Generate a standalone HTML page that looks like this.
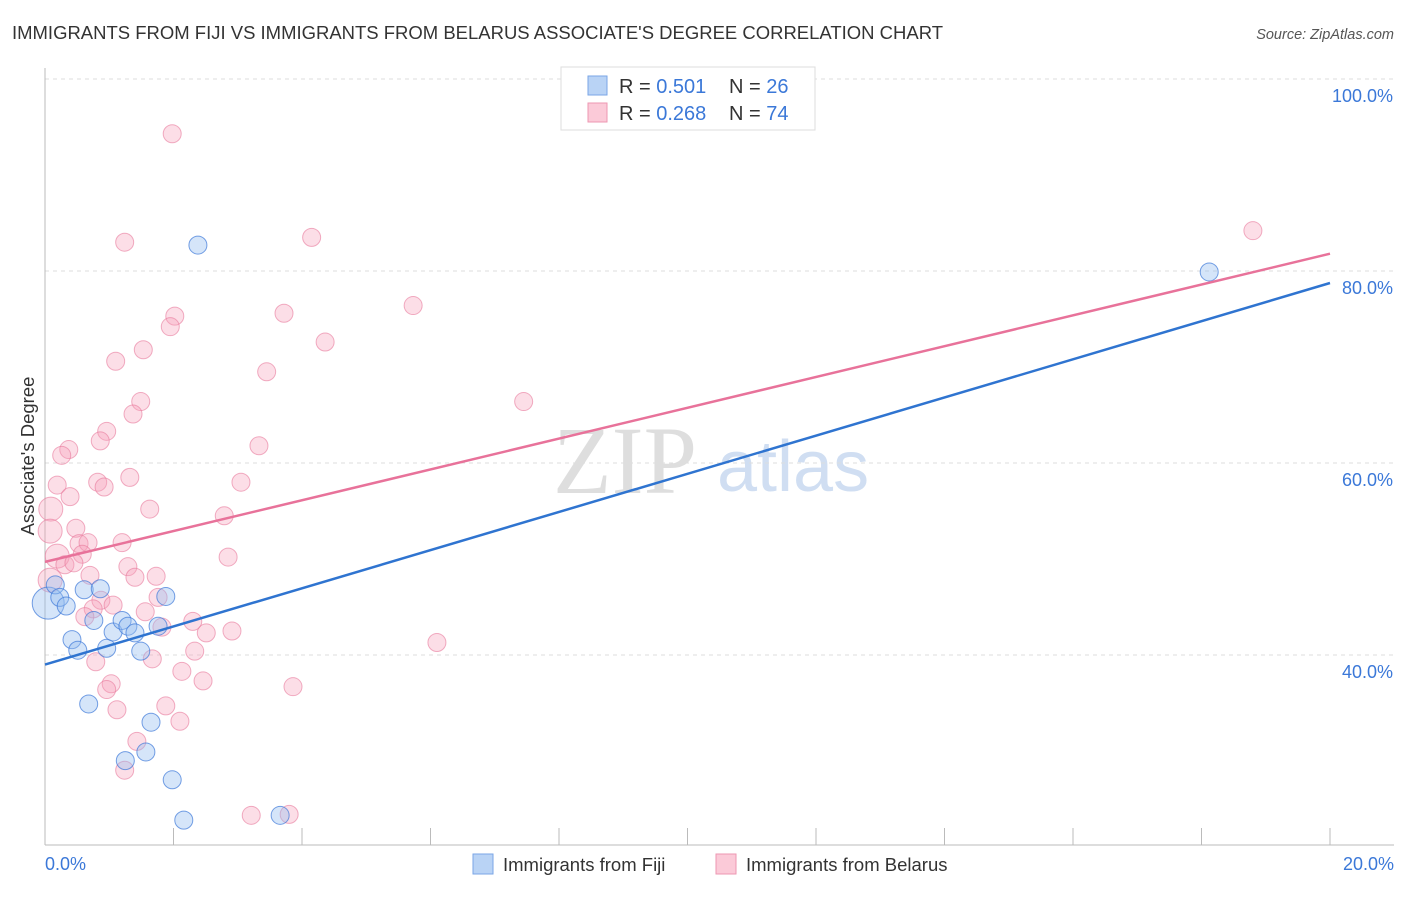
<!DOCTYPE html>
<html><head><meta charset="utf-8"><style>
body{margin:0;background:#fff;font-family:"Liberation Sans",sans-serif;}
</style></head><body>
<svg width="1406" height="892" xmlns="http://www.w3.org/2000/svg" font-family="Liberation Sans, sans-serif">
<text x="12" y="39" font-size="18" fill="#333" textLength="931" lengthAdjust="spacingAndGlyphs">IMMIGRANTS FROM FIJI VS IMMIGRANTS FROM BELARUS ASSOCIATE'S DEGREE CORRELATION CHART</text>
<text x="1394" y="39" font-size="14.5" fill="#555" font-style="italic" text-anchor="end">Source: ZipAtlas.com</text>
<g>
<text x="553" y="493" font-size="96" font-family="Liberation Serif, serif" fill="#d6d6d6" opacity="0.8">ZIP</text>
<text x="717" y="491" font-size="72" fill="#c5d7ef" opacity="0.8">atlas</text>
</g>
<g id="grid"></g>
<g id="axes"></g>
<g id="marks"></g>
<text x="34" y="456" font-size="18.5" fill="#333" text-anchor="middle" transform="rotate(-90 34 456)">Associate's Degree</text>
<text x="45" y="870" font-size="18" fill="#3b78d8">0.0%</text>
<text x="1394" y="870" font-size="18" fill="#3b78d8" text-anchor="end">20.0%</text>
<g>
<rect x="561" y="67" width="254" height="63" fill="#fff" stroke="#ddd"/>
<rect x="588" y="76" width="19" height="19" fill="#b9d3f5" stroke="#7aa6e6"/>
<rect x="588" y="103" width="19" height="19" fill="#fbcad8" stroke="#ee97b2"/>
<text x="619" y="93" font-size="20" fill="#333">R = <tspan fill="#3b78d8">0.501</tspan><tspan x="729">N = </tspan><tspan fill="#3b78d8">26</tspan></text>
<text x="619" y="120" font-size="20" fill="#333">R = <tspan fill="#3b78d8">0.268</tspan><tspan x="729">N = </tspan><tspan fill="#3b78d8">74</tspan></text>
</g>
<g>
<rect x="473" y="854" width="20" height="20" fill="#b9d3f5" stroke="#7aa6e6"/>
<text x="503" y="871" font-size="18.5" fill="#333">Immigrants from Fiji</text>
<rect x="716" y="854" width="20" height="20" fill="#fbcad8" stroke="#ee97b2"/>
<text x="746" y="871" font-size="18.5" fill="#333">Immigrants from Belarus</text>
</g>
</svg>
<script>
const yTicks=[40,60,80,100];
const yTickLabels=["40.0%","60.0%","80.0%","100.0%"];
const xTicks=[0,2,4,6,8,10,12,14,16,18,20];
const fijiX=[0.05,0.16,0.23,0.33,0.61,0.86,0.76,0.42,0.51,0.96,1.06,1.20,1.29,1.40,1.49,1.76,1.88,0.68,1.65,1.25,1.57,1.98,2.16,3.66,2.38,18.12];
const fijiY=[45.4,47.3,46.0,45.1,46.8,46.9,43.6,41.6,40.5,40.7,42.4,43.6,43.0,42.3,40.4,43.0,46.1,34.9,33.0,29.0,29.9,27.0,22.8,23.3,82.7,79.9];
const fijiBig=[1,0,0,0,0,0,0,0,0,0,0,0,0,0,0,0,0,0,0,0,0,0,0,0,0,0];
const belX=[1.98,1.24,4.15,18.80,5.73,3.72,2.02,1.95,4.36,1.53,1.10,3.45,7.45,1.49,1.37,0.96,0.86,3.33,0.37,0.26,0.19,0.82,0.92,1.32,3.05,0.39,0.09,1.63,2.79,0.08,0.48,1.20,0.53,0.67,0.58,0.19,2.85,0.31,0.45,1.29,1.73,0.70,1.40,0.08,0.87,1.76,1.06,0.75,1.56,2.30,1.82,0.62,2.51,2.91,6.10,2.33,0.79,1.67,2.13,2.46,3.86,1.03,0.96,1.12,1.88,2.10,1.43,1.24,3.21,3.80];
const belY=[94.3,83.0,83.5,84.2,76.4,75.6,75.3,74.2,72.6,71.8,70.6,69.5,66.4,66.4,65.1,63.3,62.3,61.8,61.4,60.8,57.7,58.0,57.5,58.5,58.0,56.5,55.2,55.2,54.5,52.9,53.2,51.7,51.6,51.7,50.5,50.3,50.2,49.4,49.6,49.2,48.2,48.3,48.1,47.8,45.7,46.0,45.2,44.8,44.5,43.5,42.9,44.0,42.3,42.5,41.3,40.4,39.3,39.6,38.3,37.3,36.7,37.0,36.4,34.3,34.7,33.1,31.0,28.0,23.3,23.4];
const belBig=[0,0,0,0,0,0,0,0,0,0,0,0,0,0,0,0,0,0,0,0,0,0,0,0,0,0,1,0,0,1,0,0,0,0,0,1,0,0,0,0,0,0,0,1,0,0,0,0,0,0,0,0,0,0,0,0,0,0,0,0,0,0,0,0,0,0,0,0,0,0];
const fijiLine=[39.0,78.75];
const belLine=[49.7,81.8];
const NS="http://www.w3.org/2000/svg";
const X=v=>45+v*64.25;
const Y=v=>1039-v*9.6;
function mk(t,a,p){const e=document.createElementNS(NS,t);for(const k in a)e.setAttribute(k,a[k]);p.appendChild(e);return e;}
const grid=document.getElementById('grid'),axes=document.getElementById('axes'),marks=document.getElementById('marks');
yTicks.forEach((t,i)=>{
 const l=mk('line',{x1:45,x2:1394,y1:Y(t),y2:Y(t),stroke:'#ddd','stroke-dasharray':'4,4'},grid);
 
 
 const tx=mk('text',{x:1393,y:Y(t)+23,'font-size':18,fill:'#3b78d8','text-anchor':'end'},axes);
 tx.textContent=yTickLabels[i];
 
 
});
const ya=mk('line',{x1:45,x2:45,y1:68,y2:845,stroke:'#bbb'},axes);


const xa=mk('line',{x1:45,x2:1394,y1:845,y2:845,stroke:'#bbb'},axes);


xTicks.forEach(t=>{
 const l=mk('line',{x1:X(t),x2:X(t),y1:828,y2:845,stroke:'#bbb'},axes);
 
 
});
belX.forEach((x,i)=>{
 const c=mk('circle',{cx:X(x),cy:Y(belY[i]),r:belBig[i]?12:9,fill:'rgba(246,160,187,0.35)',stroke:'rgba(232,120,155,0.6)','stroke-width':1},marks);
 
 
});
fijiX.forEach((x,i)=>{
 const c=mk('circle',{cx:X(x),cy:Y(fijiY[i]),r:fijiBig[i]?16:9,fill:'rgba(150,190,240,0.4)',stroke:'rgba(60,120,216,0.7)','stroke-width':1},marks);
 
 
});
const pl=mk('line',{x1:X(0),y1:Y(belLine[0]),x2:X(20),y2:Y(belLine[1]),stroke:'#e8729a','stroke-width':2.5},marks);


const bl=mk('line',{x1:X(0),y1:Y(fijiLine[0]),x2:X(20),y2:Y(fijiLine[1]),stroke:'#2f74d0','stroke-width':2.5},marks);


</script>
</body></html>
